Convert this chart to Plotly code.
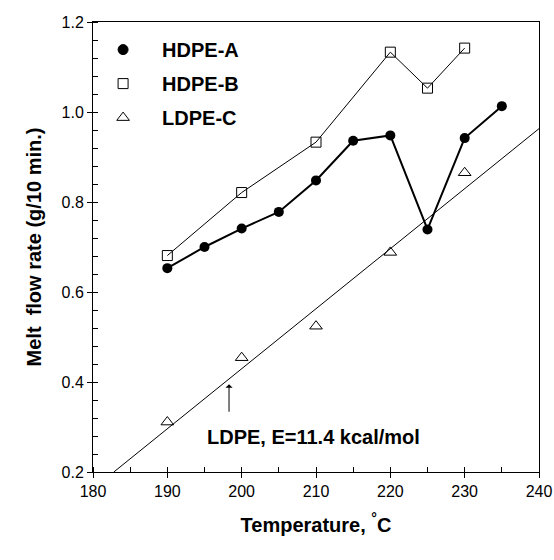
import plotly.graph_objects as go

# Data
temp_a = [190, 195, 200, 205, 210, 215, 220, 225, 230, 235]
mfr_a = [0.653, 0.700, 0.741, 0.778, 0.848, 0.936, 0.948, 0.739, 0.942, 1.013]

temp_b = [190, 200, 210, 220, 225, 230]
mfr_b = [0.681, 0.821, 0.933, 1.133, 1.053, 1.142]

temp_c = [190, 200, 210, 220, 230]
mfr_c = [0.311, 0.454, 0.524, 0.688, 0.865]

fit_x = [182.8, 240]
fit_y = [0.200, 0.963]

FONT = "Liberation Sans, Arial, sans-serif"

fig = go.Figure()

fig.add_trace(go.Scatter(x=temp_a, y=mfr_a, mode="lines+markers", name="HDPE-A",
                         line=dict(color="black", width=2),
                         marker=dict(symbol="circle", size=10, color="black"),
                         showlegend=False))
fig.add_trace(go.Scatter(x=temp_b, y=mfr_b, mode="lines+markers", name="HDPE-B",
                         line=dict(color="black", width=1),
                         marker=dict(symbol="square-open", size=10, color="black",
                                     line=dict(width=1)),
                         showlegend=False))
fig.add_trace(go.Scatter(x=fit_x, y=fit_y, mode="lines", name="fit",
                         line=dict(color="black", width=1), showlegend=False))
fig.add_trace(go.Scatter(x=temp_c, y=mfr_c, mode="markers", name="LDPE-C",
                         marker=dict(symbol="triangle-up-open", size=11, color="black",
                                     line=dict(width=1)),
                         showlegend=False))

# legend entries (markers only)
for nm, sym, sz, grp in [("HDPE-A", "circle", 10, "a"),
                         ("HDPE-B", "square-open", 10, "b"),
                         ("LDPE-C", "triangle-up-open", 11, "c")]:
    fig.add_trace(go.Scatter(x=[None], y=[None], mode="markers", name="<b>" + nm + "</b>",
                             legendgroup=grp,
                             marker=dict(symbol=sym, size=sz, color="black",
                                         line=dict(width=1, color="black"))))

fig.add_annotation(x=198.3, y=0.395, ax=198.3, ay=0.315, xref="x", yref="y",
                   axref="x", ayref="y", showarrow=True, arrowhead=1,
                   arrowsize=1.2, arrowwidth=1, arrowcolor="black", text=" ")
fig.add_annotation(x=195.0, y=0.278, xref="x", yref="y", showarrow=False,
                   xanchor="left", yanchor="middle",
                   text="<b>LDPE, E=11.4 kcal/mol</b>",
                   font=dict(family=FONT, size=20, color="black"))

axis_common = dict(showline=True, linecolor="black", linewidth=1, mirror=True,
                   showgrid=False, zeroline=False, ticks="outside", ticklen=5,
                   tickcolor="black", automargin=False,
                   tickfont=dict(family=FONT, size=16, color="black"))

fig.update_xaxes(range=[180, 240], dtick=10, tick0=180,
                 minor=dict(dtick=5, ticks="inside", ticklen=5, tickcolor="black"),
                 title=dict(text="<b>Temperature, <sup>°</sup>C</b>", standoff=18,
                            font=dict(family=FONT, size=20, color="black")),
                 **axis_common)
fig.update_yaxes(range=[0.2, 1.2], dtick=0.2, tick0=0.2, tickformat=".1f",
                 minor=dict(dtick=0.04, tick0=0.2, ticks="inside", ticklen=5, tickcolor="black"),
                 title=dict(text="<b>Melt  flow rate (g/10 min.)</b>", standoff=14,
                            font=dict(family=FONT, size=20, color="black")),
                 **axis_common)

fig.update_layout(
    width=554, height=560,
    margin=dict(l=93, r=15, t=22, b=88),
    plot_bgcolor="white", paper_bgcolor="white",
    font=dict(family=FONT, color="black"),
    legend=dict(x=-0.02, y=0.982, xanchor="left", yanchor="top",
                bgcolor="rgba(0,0,0,0)", tracegroupgap=5,
                font=dict(family=FONT, size=20, color="black"),
                itemwidth=68),
)

fig.write_html("out.html", config={"displayModeBar": False},
               post_script="document.body.style.margin='0px';")
